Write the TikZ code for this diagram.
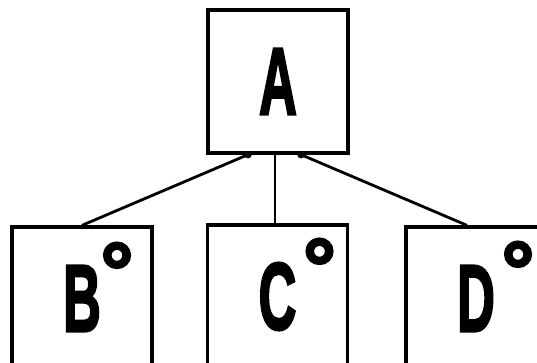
\documentclass[tikz,border=0pt]{standalone}
\usepackage{fontspec}
\usepackage{graphicx}
\setmainfont{Liberation Sans}
\newfontfamily\heavyfont[FakeBold=3]{Liberation Sans Bold}
\usetikzlibrary{calc}

% tall narrow letters and the small circle mark
\newcommand{\tallletter}[1]{\scalebox{0.55}[1]{\fontsize{95}{95}\heavyfont #1}}
\newcommand{\ringmark}{{\fontsize{82}{82}\heavyfont °}}

\tikzset{
	entity/.style={draw, line width=3.3pt, minimum width=140pt, minimum height=143pt, inner sep=0pt},
	ringnode/.style={anchor=north, inner sep=0pt},
	link/.style={line width=2.8pt},
	joint/.style={fill, radius=3.8pt}
}

\begin{document}
\begin{tikzpicture}[x=1pt, y=-1pt]
		\useasboundingbox (0,0) rectangle (537,362);
		\clip (0,0) rectangle (537,362);
		
		% Top box
		\node[entity] (A) at (278,81.5) {\tallletter{A}};
		
		% Lower boxes
		\node[entity] (B) at (82,298.5) {\tallletter{B}};
		\node[entity] (C) at (277.5,296.5) {\tallletter{C}};
		\node[entity] (D) at (476,298.5) {\tallletter{D}};
		
		% Circle marks
		\node[ringnode] (Bmark) at ($(B.center)+(35,-56)$) {\ringmark};
		\node[ringnode] (Cmark) at ($(C.center)+(42,-58)$) {\ringmark};
		\node[ringnode] (Dmark) at ($(D.center)+(42,-57)$) {\ringmark};
		
		% Connectors
		\coordinate (Aleft) at ($(A.south)+(-30,0)$);
		\coordinate (Amid) at ($(A.south)+(-3,0)$);
		\coordinate (Aright) at ($(A.south)+(23,0)$);
		\draw[link] (Aleft) -- (B.north);
		\draw[link] (Amid) -- ($(C.north)+(-2.5,0)$);
		\draw[link] (Aright) -- ($(D.north)+(-9,0)$);
		\fill[joint] (Aleft) circle;
		\fill[joint] (Aright) circle;
	\end{tikzpicture}
\end{document}
